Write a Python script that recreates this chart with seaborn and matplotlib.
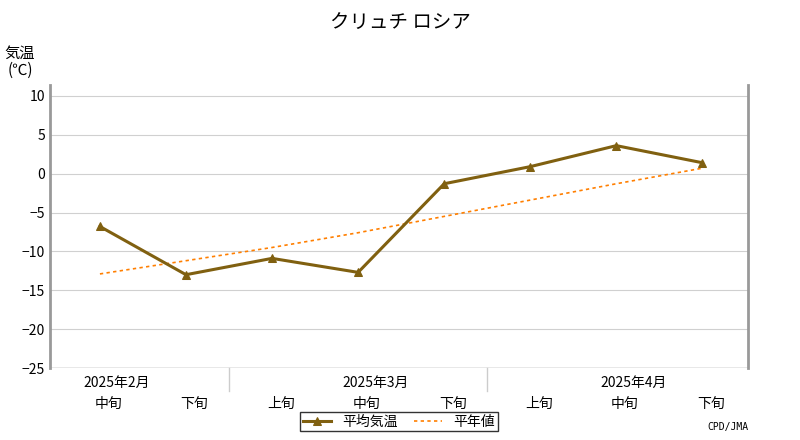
import matplotlib
matplotlib.use("Agg")
import matplotlib.pyplot as plt
import seaborn as sns
import pandas as pd

plt.rcParams["font.family"] = ["Noto Sans CJK JP", "DejaVu Sans"]

periods = ["中旬", "下旬", "上旬", "中旬", "下旬", "上旬", "中旬", "下旬"]
months = ["2025年2月", "2025年3月", "2025年4月"]
month_pos = [0, 3, 6]
month_sep = [1.5, 4.5]
avg_temp = [-6.8, -13.0, -10.9, -12.7, -1.3, 0.9, 3.6, 1.4]
normal_temp = [-12.9, -11.2, -9.5, -7.6, -5.5, -3.4, -1.3, 0.7]

df = pd.DataFrame({"x": range(len(periods)), "avg": avg_temp, "normal": normal_temp})

fig = plt.figure(figsize=(8, 4.4), dpi=100)
ax = fig.add_axes([50/800, 1-368/440, 698/800, 283/440])

sns.lineplot(data=df, x="x", y="normal", ax=ax, color="#ff7f00", linestyle=(0, (2, 2)),
             linewidth=1.2, label="平年値")
sns.lineplot(data=df, x="x", y="avg", ax=ax, color="#806010", linewidth=2.2,
             marker="^", markersize=6, markeredgecolor="#806010", label="平均気温")

ax.set_xlim(-0.58, 7.53)
ax.set_ylim(-25, 11.4)
ax.set_yticks(range(-25, 11, 5))
ax.set_xticks([])
ax.set_xlabel("")
ax.set_ylabel("")
ax.grid(axis="y", color="#d0d0d0", linewidth=0.8)
ax.tick_params(axis="y", length=0, labelsize=10)
for s in ["top", "bottom"]:
    ax.spines[s].set_visible(False)
for s in ["left", "right"]:
    ax.spines[s].set_color("#999999")
    ax.spines[s].set_linewidth(2)
ax.axhline(-25, color="#999999", linewidth=1)

for i, p in enumerate(periods):
    ax.text(i + 0.1, -28.7, p, ha="center", va="top", fontsize=10, clip_on=False)
for m, mp in zip(months, month_pos):
    ax.text(mp + 0.2, -26.0, m, ha="center", va="top", fontsize=10, clip_on=False)
for sp in month_sep:
    ax.plot([sp, sp], [-25, -28], color="#cccccc", linewidth=1, clip_on=False)

h, l = ax.get_legend_handles_labels()
ax.legend(h[::-1], l[::-1], loc="upper center", bbox_to_anchor=(0.5, -0.13), ncol=2,
          frameon=True, fancybox=False, edgecolor="black", fontsize=10,
          handlelength=2, borderpad=0.2, columnspacing=1.2)

fig.text(0.5, 1-22/440, "クリュチ ロシア", ha="center", va="center", fontsize=14)
fig.text(20/800, 1-62/440, "気温\n(℃)", ha="center", va="center", fontsize=11, linespacing=1.0)
fig.text(748/800, 1-427/440, "CPD/JMA", ha="right", va="center", fontsize=7, family="DejaVu Sans Mono")

fig.savefig("out.png", dpi=100)
